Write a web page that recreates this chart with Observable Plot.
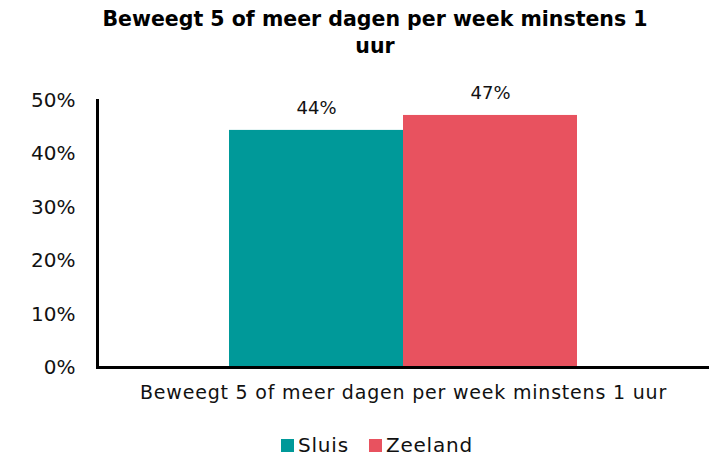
<!DOCTYPE html>
<html>
<head>
<meta charset="utf-8">
<script src="https://cdn.jsdelivr.net/npm/d3@7"></script>
<script src="https://cdn.jsdelivr.net/npm/@observablehq/plot@0.6"></script>
<style>
  html, body { margin: 0; padding: 0; background: #fff; }
  #wrap { width: 715px; height: 456px; position: relative; font-family: "DejaVu Sans", sans-serif; }
  #title { position: absolute; left: 85px; width: 580px; top: 6px; text-align: center;
    font-family: "DejaVu Sans", sans-serif; font-weight: bold; font-size: 20.5px; line-height: 27px; color: #000; }
  #chart { position: absolute; left: 0; top: 62px; }
  #legend { position: absolute; top: 433px; left: 281px; display: flex; align-items: center;
    font-size: 20px; letter-spacing: 0.8px; color: #111; }
  .sw { display: inline-block; width: 13px; height: 13px; margin-right: 4px; }
  .item { display: flex; align-items: center; margin-right: 20px; }
</style>
</head>
<body>
<div id="wrap">
  <div id="title"></div>
  <div id="chart"></div>
  <div id="legend"></div>
</div>
<script>
const titleText = "Beweegt 5 of meer dagen per week minstens 1 uur";
const category = "Beweegt 5 of meer dagen per week minstens 1 uur";
const series = ["Sluis", "Zeeland"];
const values = [0.444, 0.472];
const colors = ["#009999", "#E8525F"];
const yTicks = [0, 0.1, 0.2, 0.3, 0.4, 0.5];

const data = series.map((s, i) => ({category, series: s, value: values[i]}));
const fmt = d3.format(".0%");

document.getElementById("title").textContent = titleText;

const chart = Plot.plot({
  width: 715,
  height: 350,
  marginLeft: 97,
  marginRight: 6,
  marginTop: 38,
  marginBottom: 45,
  style: { fontFamily: "'DejaVu Sans', sans-serif", fontSize: "20px", color: "#111", background: "#fff" },
  fx: { domain: [category], padding: 0, label: null, axis: "bottom", tickSize: 0, tickPadding: 18 },
  x: { domain: series, paddingInner: 0, paddingOuter: 0.75, axis: null },
  y: { domain: [0, 0.5], ticks: yTicks, tickFormat: fmt, label: null, tickSize: 0, tickPadding: 22 },
  color: { domain: series, range: colors },
  marks: [
    Plot.barY(data, { fx: "category", x: "series", y: "value", fill: "series" }),
    Plot.text(data, { fx: "category", x: "series", y: "value", text: d => fmt(d.value), dy: -22, fontSize: 18, fill: "#111" }),
    Plot.ruleY([0], { stroke: "#000", strokeWidth: 3 }),
    Plot.frame({ anchor: "left", stroke: "#000", strokeWidth: 3 })
  ]
});
chart.querySelectorAll("[aria-label='fx-axis tick label'] text").forEach(t => { t.style.fontSize = "19px"; t.style.letterSpacing = "0.8px"; });
document.getElementById("chart").appendChild(chart);

const legend = document.getElementById("legend");
series.forEach((s, i) => {
  const item = document.createElement("div");
  item.className = "item";
  const sw = document.createElement("span");
  sw.className = "sw";
  sw.style.background = colors[i];
  const lab = document.createElement("span");
  lab.textContent = s;
  item.appendChild(sw);
  item.appendChild(lab);
  legend.appendChild(item);
});
</script>
</body>
</html>
